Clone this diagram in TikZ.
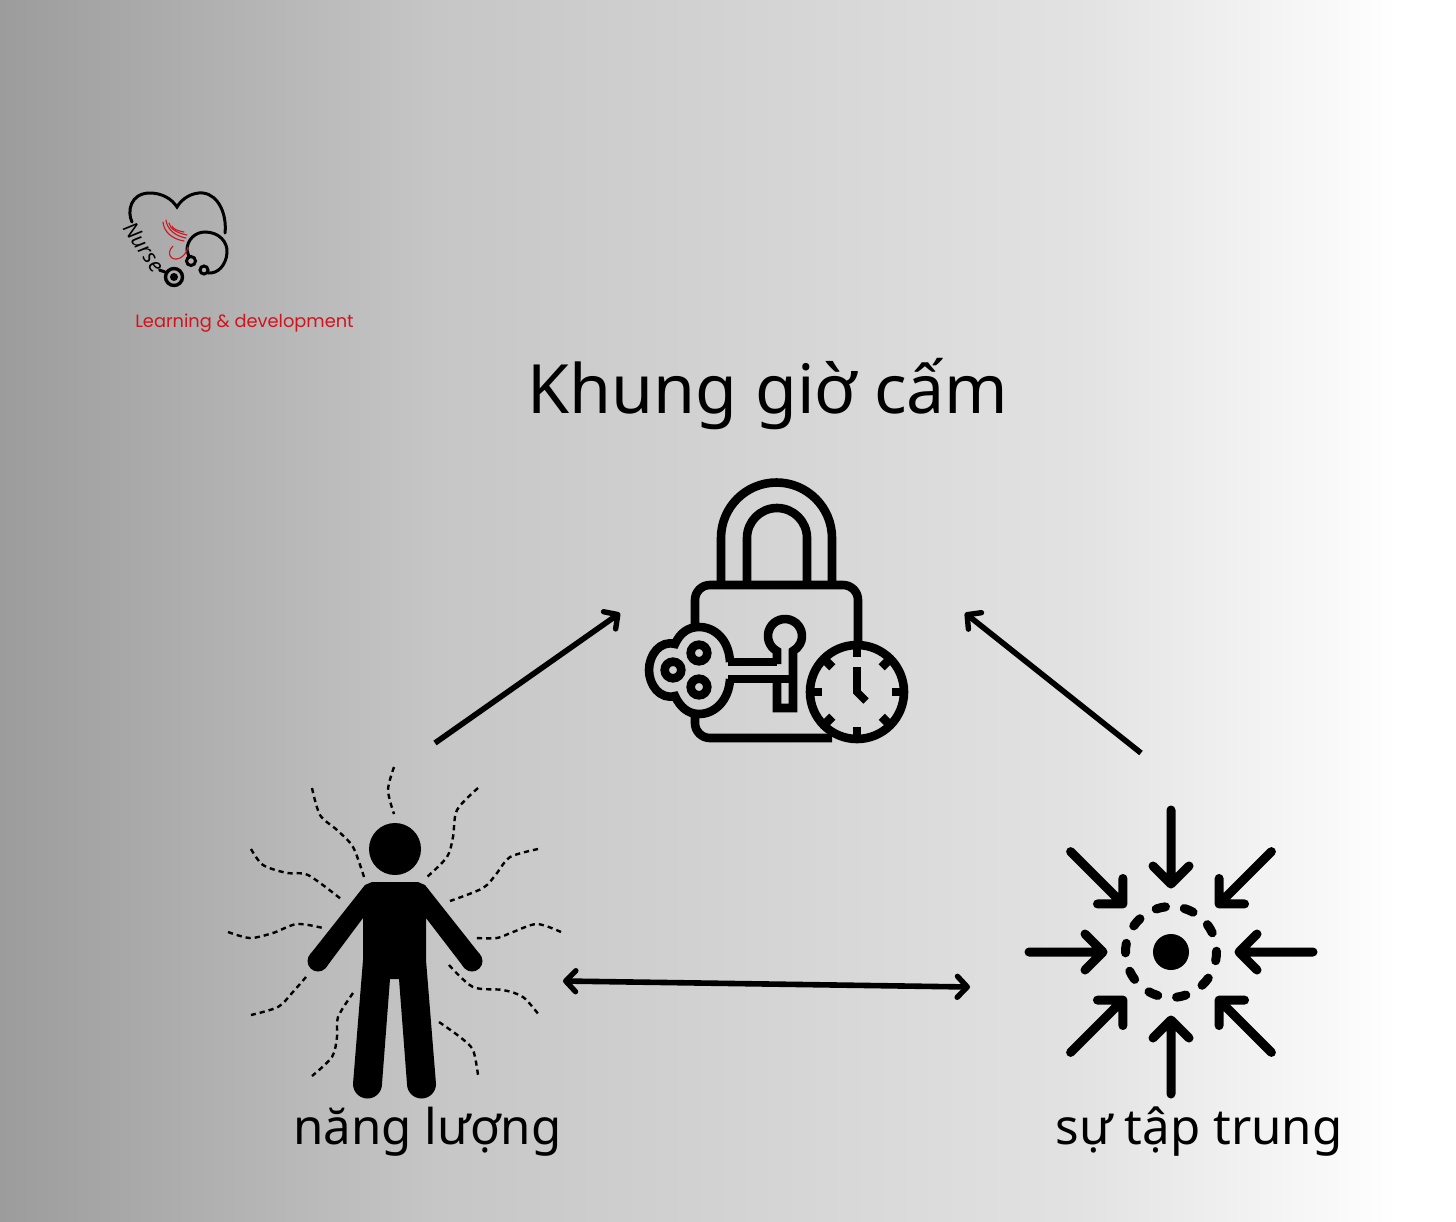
\documentclass[tikz,border=0pt]{standalone}
\usepackage{fontspec}
\setmainfont{Noto Sans}
\newfontfamily\logofont{Poppins}
\usetikzlibrary{arrows.meta}
\definecolor{logored}{HTML}{D0141E}
\definecolor{bgA}{HTML}{9C9C9C}
\definecolor{bgB}{HTML}{C6C6C6}
\definecolor{bgC}{HTML}{E2E2E2}
\pgfdeclarehorizontalshading{bgfade}{100bp}{
  color(0bp)=(bgA); color(25bp)=(bgA); color(40bp)=(bgB); color(62bp)=(bgC);
  color(73bp)=(white); color(100bp)=(white)}
\tikzset{
  iconline/.style={line width=4.3pt,line join=miter},
  ring/.style={line width=4.3pt},
  squiggle/.style={line width=1.2pt,dash pattern=on 2.6pt off 2pt},
  focusline/.style={line width=4.5pt,line cap=round,line join=round},
  barbtip/.tip={Straight Barb[length=5pt,width=10.5pt,line width=2.7pt,round]},
  linkarrow/.style={line width=2.8pt,barbtip-barbtip},
  toarrow/.style={line width=2.8pt,-barbtip},
  logoline/.style={line width=1.5pt,line cap=round},
  feather/.style={logored,line width=.55pt,line cap=round},
  label/.style={font=\fontsize{24.6}{30}\selectfont,inner sep=0pt}
}
\begin{document}
\begin{tikzpicture}[x=.5pt,y=-.5pt]
  \useasboundingbox (0,0) rectangle (1456,1221);
  \shade[shading=bgfade] (0,0) rectangle (1456,1221);
  % logo
  \draw[logoline] (132,222) .. controls (127,212) and (130,193) .. (150,193)
       .. controls (162,193) and (172,199) .. (177,207)
       .. controls (182,198) and (193,192) .. (203,193)
       .. controls (219,195) and (227,215) .. (225,233);
  \draw[logoline] (189,257) -- (187,250) .. controls (187,240) and (195,232) .. (205,232)
       .. controls (219,232) and (228,242) .. (227,253)
       .. controls (226,265) and (218,274) .. (208,273);
  \draw[logoline] (191,261) circle (4.5) (204,270) circle (4);
  \draw[logoline,line width=1.7pt] (174,277) circle (8.5);
  \fill (174,277) circle (4);
  \node[rotate=-56,font=\itshape\bfseries\fontsize{10.5}{12}\selectfont,inner sep=0pt] (nurse) at (144,247) {Nurse};
  \draw[logoline] (nurse.east) -- (165,272);
  \draw[feather] (163,222) .. controls (164,232) and (172,239) .. (184,241);
  \draw[feather] (166,220) .. controls (167,229) and (175,236) .. (186,238);
  \draw[feather] (169,223) .. controls (170,229) and (177,233) .. (187,235);
  \draw[feather] (172,226) .. controls (173,229) and (178,231) .. (184,232);
  \draw[feather] (173,246) .. controls (165,254) and (172,262) .. (180,258)
       .. controls (184,256) and (187,252) .. (188,247);
  \node[logored,font=\logofont\fontsize{8.9}{11}\selectfont,inner sep=0pt] (brand) at (244.5,323) {Learning \& development};
  % title and labels
  \node[font=\fontsize{34}{38}\selectfont,inner sep=0pt] (title) at (768,394) {Khung giờ cấm};
  \node[label] (energy) at (427.5,1132) {năng lượng};
  \node[label] (focus) at (1199,1132) {sự tập trung};
  % lock
  \draw[iconline] (721,583) -- (721,538) arc (180:360:55.5) -- (832,583);
  \draw[iconline] (747,583) -- (747,538) arc (180:360:30) -- (807,583);
  \draw[iconline] (695,627) -- (695,600) arc (180:270:15) -- (843,585) arc (270:360:15) -- (858,643);
  \draw[iconline] (695,717) -- (695,723) arc (180:90:15) -- (832,738);
  % key
  \draw[iconline] (730,662) .. controls (729,640) and (715,627) .. (699,627)
       .. controls (688,627) and (680,633) .. (675,644)
       .. controls (660,640) and (649,655) .. (649,670)
       .. controls (649,685) and (660,700) .. (675,696)
       .. controls (680,707) and (688,714) .. (699,714)
       .. controls (715,714) and (729,700) .. (730,679);
  \draw[iconline] (728,662) -- (777,662) (728,679) -- (793,679);
  \draw[ring] (673,670) circle (8.3) (699,653) circle (8.3) (699,687) circle (8.3);
  \draw[iconline] (777,664) -- (777,651) arc (118:422:17) -- (793,708) -- (777,708) -- (777,677);
  % clock
  \draw[ring] (857,692) circle (47);
  \foreach \a in {0,45,...,315}
    \draw[iconline] (857,692) ++(\a:47) -- ++(\a:-12);
  \draw[line width=3.8pt] (857,667) -- (857,692) -- (866,701);
  % person
  \fill (395,849) circle (26);
  \fill (318,961) circle (10.5) (472,961) circle (10.5);
  \fill (372,882) -- (418,882) -- (425,885) -- (480,954.5) -- (464,967.5) -- (426,918) -- (426,960)
       -- (436,1084) arc (0:180:14.5) -- (399,979) -- (390,979) -- (382,1084) arc (0:180:14.5)
       -- (363,960) -- (363,918) -- (326,967.5) -- (310,954.5) -- (365,885) -- cycle;
  \draw[squiggle] plot[smooth] coordinates {(394,767) (388,790) (394,814)};
  \draw[squiggle] plot[smooth] coordinates {(312,788) (320,815) (337,830) (353,847) (364,877)};
  \draw[squiggle] plot[smooth] coordinates {(478,788) (457,810) (453,837) (447,857) (427,877)};
  \draw[squiggle] plot[smooth] coordinates {(251,849) (263,865) (287,873) (308,875) (341,899)};
  \draw[squiggle] plot[smooth] coordinates {(538,849) (510,857) (497,873) (483,888) (450,901)};
  \draw[squiggle] plot[smooth] coordinates {(228,932) (250,938) (273,933) (297,924) (323,928)};
  \draw[squiggle] plot[smooth] coordinates {(561,932) (537,924) (513,932) (497,938) (476,938)};
  \draw[squiggle] plot[smooth] coordinates {(306,977) (292,993) (278,1007) (251,1015)};
  \draw[squiggle] plot[smooth] coordinates {(449,965) (473,987) (503,990) (523,997) (539,1015)};
  \draw[squiggle] plot[smooth] coordinates {(353,993) (338,1017) (337,1037) (332,1057) (312,1076)};
  \draw[squiggle] plot[smooth] coordinates {(439,1022) (460,1037) (473,1050) (478,1075)};
  % focus icon
  \begin{scope}[shift={(1171,952)}]
    \fill (0,0) circle (18);
    \foreach \a in {5,41,...,329}
      \draw[focusline] (\a-6:45.5) arc (\a-6:\a+6:45.5);
    \foreach \a in {0,45,...,315}
      \draw[focusline,rotate=\a] (142,0) -- (68,0) (86,-18) -- (68,0) -- (86,18);
  \end{scope}
  % arrows
  \coordinate (lockL) at (620,613);
  \coordinate (lockR) at (965,613);
  \coordinate (bodyT) at (435,743);
  \coordinate (focusT) at (1141,753);
  \coordinate (bodyR) at (563,981);
  \coordinate (focusL) at (970,987);
  \draw[toarrow] (bodyT) -- (lockL);
  \draw[toarrow] (focusT) -- (lockR);
  \draw[linkarrow] (bodyR) -- (focusL);
\end{tikzpicture}
\end{document}
